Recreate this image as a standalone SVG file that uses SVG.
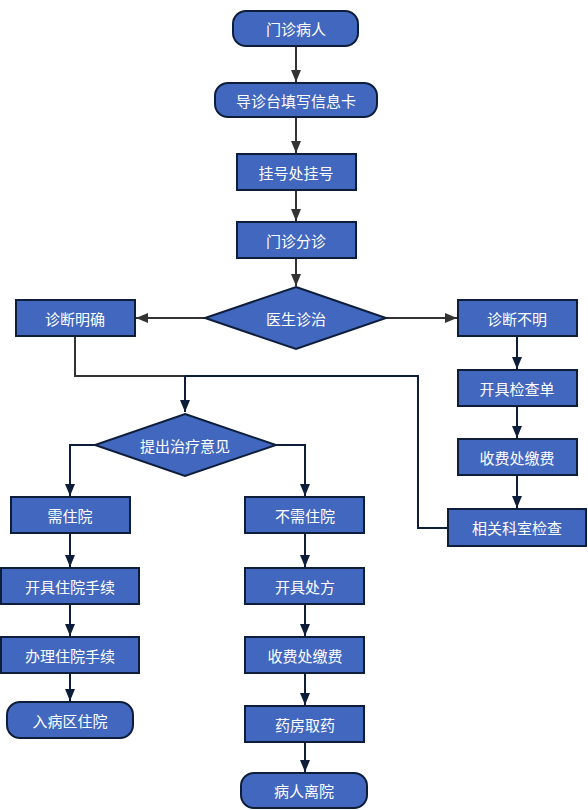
<svg xmlns="http://www.w3.org/2000/svg" width="588" height="810" viewBox="0 0 588 810">
<defs>
<style>
.n{fill:#4267BF;stroke:#0E1E3A;stroke-width:2}
.t{fill:#fff;font-family:"Noto Sans CJK SC","Noto Sans",sans-serif;font-size:15px;text-anchor:middle;dominant-baseline:central}
.c{fill:none;stroke:#0E1E3A;stroke-width:2}
.g{fill:none;stroke:#333;stroke-width:2}
</style>
<marker id="ag" markerUnits="userSpaceOnUse" markerWidth="12" markerHeight="12" viewBox="0 0 12 12" refX="12" refY="6" orient="auto"><path d="M0,1 L12,6 L0,11 Z" fill="#333"/></marker>
<marker id="an" markerUnits="userSpaceOnUse" markerWidth="12" markerHeight="12" viewBox="0 0 12 12" refX="12" refY="6" orient="auto"><path d="M0,1 L12,6 L0,11 Z" fill="#0E1E3A"/></marker>
</defs>
<g id="connectors">
<path class="g" d="M296,46 V82" marker-end="url(#ag)"/>
<path class="g" d="M296,117 V153" marker-end="url(#ag)"/>
<path class="g" d="M296,190 V221" marker-end="url(#ag)"/>
<path class="g" d="M296,258 V286" marker-end="url(#ag)"/>
<path class="g" d="M205,318 H136" marker-end="url(#ag)"/>
<path class="g" d="M386,318 H457" marker-end="url(#ag)"/>
<path class="g" d="M75,336 V376 H185"/>
<path class="c" d="M447,528 H418 V376 H185"/>
<path class="c" d="M185,376 V412" marker-end="url(#an)"/>
<path class="c" d="M517,336 V369" marker-end="url(#an)"/>
<path class="c" d="M517,406 V438" marker-end="url(#an)"/>
<path class="c" d="M517,475 V508" marker-end="url(#an)"/>
<path class="c" d="M95,445 H70 V496" marker-end="url(#an)"/>
<path class="c" d="M276,445 H305 V496" marker-end="url(#an)"/>
<path class="c" d="M70,533 V567" marker-end="url(#an)"/>
<path class="c" d="M70,604 V636" marker-end="url(#an)"/>
<path class="c" d="M70,673 V701" marker-end="url(#an)"/>
<path class="c" d="M305,533 V567" marker-end="url(#an)"/>
<path class="c" d="M305,604 V636" marker-end="url(#an)"/>
<path class="c" d="M305,673 V705" marker-end="url(#an)"/>
<path class="c" d="M305,742 V772" marker-end="url(#an)"/>
</g>
<g id="n1"><rect class="n" x="233" y="11" width="125" height="35" rx="13"/><text class="t" x="296" y="28.5">门诊病人</text></g>
<g id="n2"><rect class="n" x="215" y="83" width="162" height="34" rx="13"/><text class="t" x="296" y="100">导诊台填写信息卡</text></g>
<g id="n3"><rect class="n" x="237" y="154" width="119" height="36"/><text class="t" x="296" y="172">挂号处挂号</text></g>
<g id="n4"><rect class="n" x="237" y="222" width="119" height="36"/><text class="t" x="296" y="240">门诊分诊</text></g>
<g id="n5"><polygon class="n" points="296,287 386,318 296,349 205,318"/><text class="t" x="296" y="318">医生诊治</text></g>
<g id="n6"><rect class="n" x="16" y="300" width="119" height="36"/><text class="t" x="75" y="318">诊断明确</text></g>
<g id="n7"><rect class="n" x="458" y="300" width="119" height="36"/><text class="t" x="517" y="318">诊断不明</text></g>
<g id="n8"><rect class="n" x="458" y="370" width="119" height="36"/><text class="t" x="517" y="388">开具检查单</text></g>
<g id="n9"><rect class="n" x="458" y="439" width="119" height="36"/><text class="t" x="517" y="457">收费处缴费</text></g>
<g id="n10"><rect class="n" x="448" y="509" width="138" height="37"/><text class="t" x="517" y="527.5">相关科室检查</text></g>
<g id="n11"><polygon class="n" points="185,414 276,445 185,476 95,445"/><text class="t" x="185" y="445">提出治疗意见</text></g>
<g id="n12"><rect class="n" x="11" y="497" width="119" height="36"/><text class="t" x="70" y="515">需住院</text></g>
<g id="n13"><rect class="n" x="1" y="568" width="138" height="36"/><text class="t" x="70" y="586">开具住院手续</text></g>
<g id="n14"><rect class="n" x="1" y="637" width="138" height="36"/><text class="t" x="70" y="655">办理住院手续</text></g>
<g id="n15"><rect class="n" x="7" y="702" width="126" height="36" rx="13"/><text class="t" x="70" y="720">入病区住院</text></g>
<g id="n16"><rect class="n" x="245" y="497" width="119" height="36"/><text class="t" x="305" y="515">不需住院</text></g>
<g id="n17"><rect class="n" x="245" y="568" width="119" height="36"/><text class="t" x="305" y="586">开具处方</text></g>
<g id="n18"><rect class="n" x="245" y="637" width="119" height="36"/><text class="t" x="305" y="655">收费处缴费</text></g>
<g id="n19"><rect class="n" x="245" y="706" width="119" height="36"/><text class="t" x="305" y="724">药房取药</text></g>
<g id="n20"><rect class="n" x="241" y="773" width="126" height="35" rx="13"/><text class="t" x="304" y="790.5">病人离院</text></g>
</svg>
